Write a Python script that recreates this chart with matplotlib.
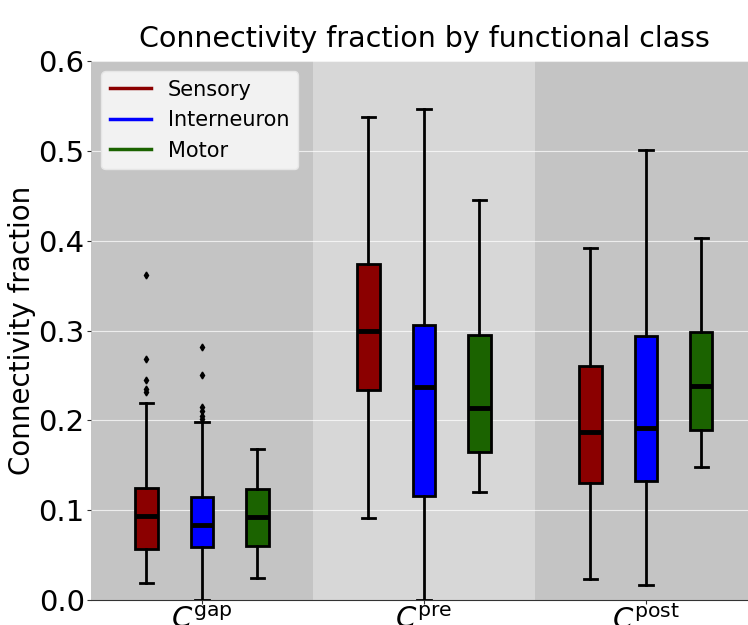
import matplotlib
matplotlib.use('Agg')
import matplotlib.pyplot as plt
from matplotlib.lines import Line2D

# Box statistics, one entry per class within each group
groups = ['gap', 'pre', 'post']
classes = ['Sensory', 'Interneuron', 'Motor']
class_colors = ['#8b0000', '#0000ff', '#1b6300']

whislo = [[0.019, 0.000, 0.024], [0.091, 0.000, 0.120], [0.023, 0.017, 0.148]]
q1 = [[0.057, 0.059, 0.060], [0.234, 0.116, 0.165], [0.130, 0.132, 0.189]]
med = [[0.094, 0.083, 0.092], [0.300, 0.237, 0.214], [0.187, 0.191, 0.238]]
q3 = [[0.125, 0.115, 0.124], [0.374, 0.306, 0.295], [0.261, 0.294, 0.298]]
whishi = [[0.219, 0.198, 0.168], [0.538, 0.547, 0.445], [0.392, 0.501, 0.403]]
fliers = [[[0.362, 0.268, 0.245, 0.235, 0.231],
           [0.282, 0.250, 0.215, 0.210, 0.205, 0.201],
           []],
          [[], [], []],
          [[], [], []]]

band_colors = ['#c4c4c4', '#d7d7d7', '#c4c4c4']
offsets = [-0.25, 0.0, 0.25]

fig = plt.figure(figsize=(7.48, 6.25), dpi=100)
ax = fig.add_axes([91 / 748, 25 / 625, 657 / 748, 539 / 625])

# alternating background bands per group
for g in range(len(groups)):
    ax.axvspan(g - 0.5, g + 0.5, color=band_colors[g], zorder=0, lw=0)

for g in range(len(groups)):
    for c in range(len(classes)):
        stats = [{
            'whislo': whislo[g][c], 'q1': q1[g][c], 'med': med[g][c],
            'q3': q3[g][c], 'whishi': whishi[g][c], 'fliers': fliers[g][c],
        }]
        ax.bxp(stats, positions=[g + offsets[c]], widths=0.1, patch_artist=True,
               manage_ticks=False, capwidths=0.06,
               boxprops=dict(facecolor=class_colors[c], edgecolor='black', linewidth=2),
               medianprops=dict(color='black', linewidth=3.5),
               whiskerprops=dict(color='black', linewidth=2),
               capprops=dict(color='black', linewidth=2),
               flierprops=dict(marker='d', markerfacecolor='black', markeredgecolor='black',
                               markersize=3.5, linestyle='none'),
               zorder=3)

ax.set_xlim(-0.5, 2.46)
ax.set_ylim(0, 0.6)
ax.set_yticks([0.0, 0.1, 0.2, 0.3, 0.4, 0.5, 0.6])
ax.set_yticklabels(['0.0', '0.1', '0.2', '0.3', '0.4', '0.5', '0.6'])
ax.set_xticks([0, 1, 2])
ax.set_xticklabels([r'$C^{\mathrm{%s}}$' % g for g in groups])
ax.tick_params(axis='both', labelsize=21, length=3, pad=1.5, color='#333333')
ax.yaxis.grid(True, color='white', linewidth=0.8, alpha=0.7, zorder=1)
ax.set_axisbelow(True)
for side in ['top', 'right', 'left']:
    ax.spines[side].set_visible(False)
ax.spines['bottom'].set_color('#333333')

ax.set_ylabel('Connectivity fraction', fontsize=20, labelpad=2)
ax.set_title('Connectivity fraction by functional class', fontsize=20.5, pad=10, x=0.508)

handles = [Line2D([0], [0], color=col, lw=2.5) for col in class_colors]
leg = ax.legend(handles, classes, loc='upper left', fontsize=15, frameon=True,
                facecolor='#f2f2f2', edgecolor='#e6e6e6', framealpha=1)
leg.set_zorder(5)

fig.savefig('out.png', dpi=100)
